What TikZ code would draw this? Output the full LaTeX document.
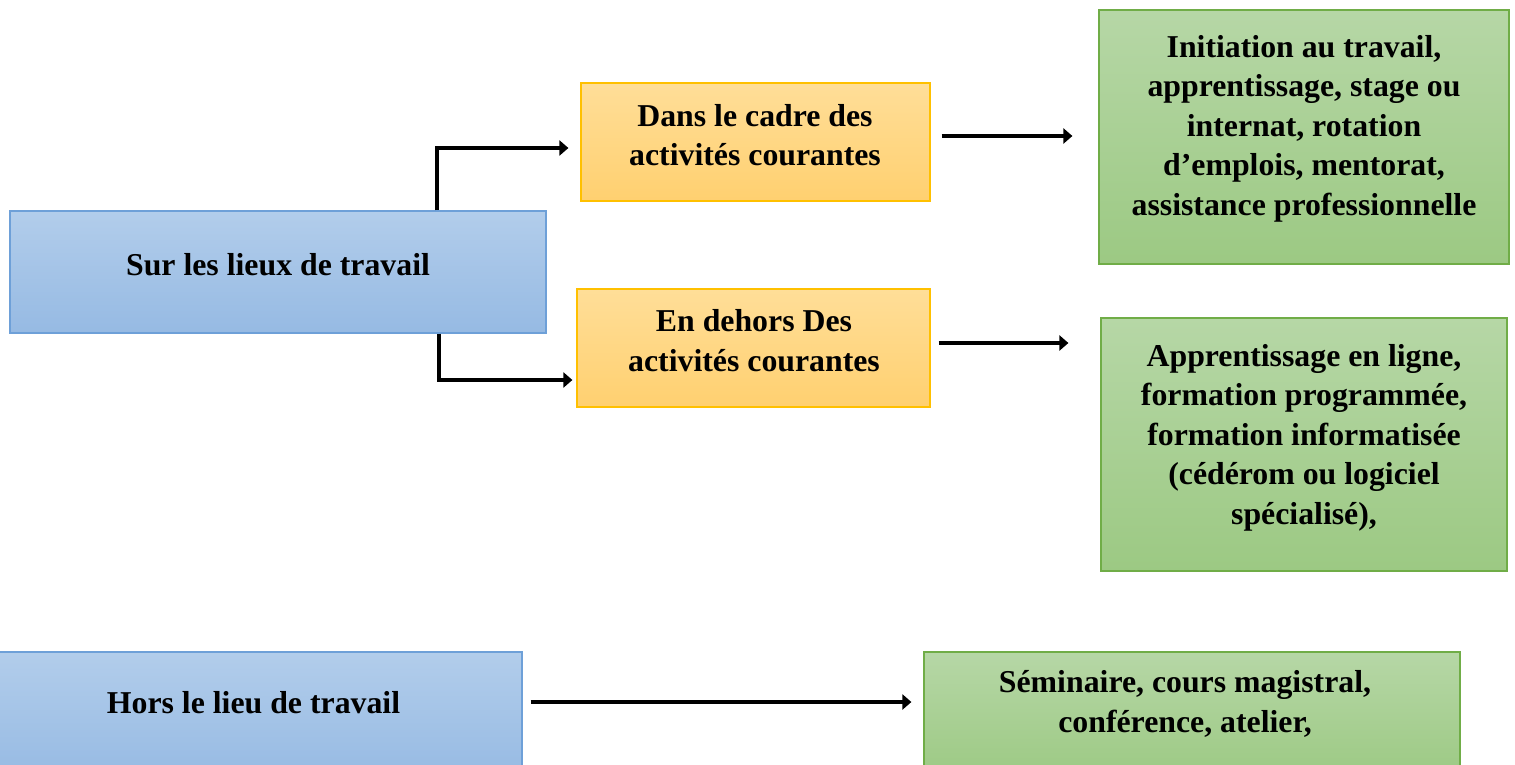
\documentclass[tikz,border=0pt]{standalone}
\usepackage{fontspec}
\setmainfont{Liberation Serif}
\usetikzlibrary{arrows.meta,calc}

\definecolor{bluetop}{RGB}{178,205,235}
\definecolor{bluebot}{RGB}{150,186,227}
\definecolor{blueline}{RGB}{110,160,216}
\definecolor{orangetop}{RGB}{255,222,152}
\definecolor{orangebot}{RGB}{255,208,112}
\definecolor{orangeline}{RGB}{255,192,0}
\definecolor{greentop}{RGB}{182,215,166}
\definecolor{greenbot}{RGB}{156,201,131}
\definecolor{greenline}{RGB}{112,173,71}

\tikzset{
  boxbase/.style={rectangle, inner sep=0pt, line width=1.2pt},
  bluebox/.style={boxbase, draw=blueline, top color=bluetop, bottom color=bluebot},
  orangebox/.style={boxbase, draw=orangeline, top color=orangetop, bottom color=orangebot},
  greenbox/.style={boxbase, draw=greenline, top color=greentop, bottom color=greenbot},
  boxtext/.style={align=center, inner sep=0pt,
    font=\fontsize{31.8}{39.5}\selectfont\bfseries},
  flow/.style={line width=4pt, -{Triangle[length=9pt 0 0,width=15pt 0 0]}},
}

\begin{document}
\begin{tikzpicture}[x=1pt, y=-1pt]
\useasboundingbox (0,0) rectangle (1515,765);

% boxes
\node[bluebox, minimum width=536pt, minimum height=122pt] (A) at (278,272) {};
\node[orangebox, minimum width=349pt, minimum height=118pt] (B) at (755.5,142) {};
\node[orangebox, minimum width=353pt, minimum height=118pt] (C) at (753.5,348) {};
\node[greenbox, minimum width=410pt, minimum height=254pt] (D) at (1304,137) {};
\node[greenbox, minimum width=406pt, minimum height=253pt] (E) at (1304,444.5) {};
\node[bluebox, minimum width=537pt, minimum height=128pt] (F) at (253.5,716) {};
\node[greenbox, minimum width=536pt, minimum height=128pt] (G) at (1192,716) {};

% labels
\node[boxtext] (At) at (278,265) {Sur les lieux de travail};
\node[boxtext] (Bt) at (755,135) {Dans le cadre des\\activités courantes};
\node[boxtext] (Ct) at (754,340.5) {En dehors Des\\activités courantes};
\node[boxtext] (Dt) at (1304,128.5) {Initiation au travail,\\apprentissage, stage ou\\internat, rotation\\d’emplois, mentorat,\\assistance professionnelle};
\node[boxtext] (Et) at (1304,437.5) {Apprentissage en ligne,\\formation programmée,\\formation informatisée\\(cédérom ou logiciel\\spécialisé),};
\node[boxtext] (Ft) at (253.5,703) {Hors le lieu de travail};
\node[boxtext] (Gt) at (1185,704) {Séminaire, cours magistral,\\conférence, atelier,};

% connectors
\draw[flow] ([xshift=159pt]A.north) |- ([xshift=-12pt,yshift=-6pt]B.west);
\draw[flow] ([xshift=161pt]A.south) |- ([xshift=-4pt,yshift=-32pt]C.west);
\draw[flow] ([xshift=11pt,yshift=6pt]B.east) -- ([xshift=-26pt,yshift=1pt]D.west);
\coordinate (c1) at ([xshift=8pt,yshift=5pt]C.east);
\draw[flow] (c1) -- ([xshift=-32pt]c1 -| E.west);
\coordinate (f1) at ([xshift=8pt,yshift=1pt]F.east |- Ft.center);
\draw[flow] (f1) -- ([xshift=-12pt]f1 -| G.west);
\end{tikzpicture}
\end{document}
